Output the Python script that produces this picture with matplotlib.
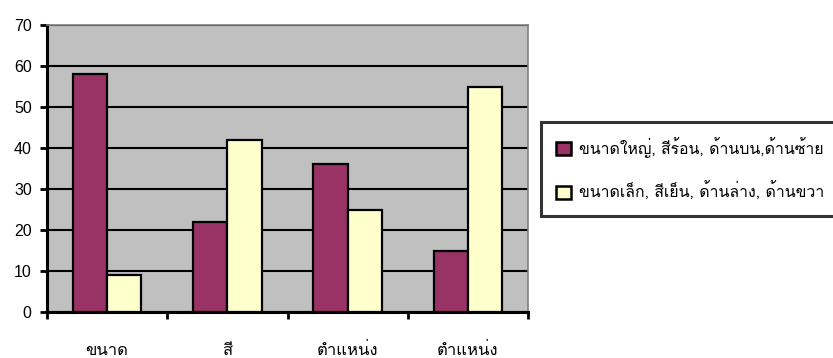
import matplotlib
matplotlib.use("Agg")
import matplotlib.pyplot as plt
from matplotlib import font_manager
from matplotlib.patches import Patch
import numpy as np

categories = ["ขนาด", "สี", "ตำแหน่ง", "ตำแหน่ง"]
series_names = ["ขนาดใหญ่, สีร้อน, ด้านบน,ด้านซ้าย",
                "ขนาดเล็ก, สีเย็น, ด้านล่าง, ด้านขวา"]
series_a = [58, 22, 36, 15]
series_b = [9, 42, 25, 55]
y_ticks = [0, 10, 20, 30, 40, 50, 60, 70]


def thai_font():
    """Return the name of an installed font that covers Thai script."""
    try:
        from fontTools.ttLib import TTFont
    except Exception:
        return None
    found = []
    for f in font_manager.fontManager.ttflist:
        try:
            tt = TTFont(f.fname, fontNumber=0, lazy=True)
            cmap = tt.getBestCmap() or {}
            if 0x0E02 in cmap and 0x0E33 in cmap:
                found.append(f.name)
        except Exception:
            continue
    if not found:
        return None
    for pref in ["Tahoma", "Loma", "Garuda", "Noto Sans Thai", "Sarabun", "Kinnari"]:
        if pref in found:
            return pref
    return sorted(set(found))[0]


tf = thai_font()
families = ([tf] if tf else []) + ["Liberation Sans", "DejaVu Sans"]
plt.rcParams["font.family"] = families

fig = plt.figure(figsize=(8.33, 3.58), dpi=100)
ax = fig.add_axes([47 / 833, 1 - 312 / 358, (528 - 47) / 833, (312 - 25) / 358])

x = np.arange(len(categories))
w = 0.285
ax.set_facecolor("#c0c0c0")
ax.bar(x - w / 2, series_a, width=w, color="#993366", edgecolor="black",
       linewidth=1.6, zorder=3, label=series_names[0])
ax.bar(x + w / 2, series_b, width=w, color="#ffffcc", edgecolor="black",
       linewidth=1.6, zorder=3, label=series_names[1])

ax.set_xlim(-0.5, len(categories) - 0.5)
ax.set_ylim(0, 70)
ax.set_yticks(y_ticks)
ax.set_yticklabels([str(v) for v in y_ticks], fontsize=11.5,
                   family=["Liberation Sans", "DejaVu Sans"])
ax.yaxis.grid(True, color="black", linewidth=1.5, zorder=1)
ax.set_axisbelow(True)

ax.set_xticks(np.arange(-0.5, len(categories), 1.0))
ax.set_xticklabels([])
ax.set_xticks(x, minor=True)
ax.set_xticklabels(categories, minor=True, fontsize=12)
ax.tick_params(axis="x", which="major", direction="out", length=5, width=2)
ax.tick_params(axis="x", which="minor", length=0, pad=22)
ax.tick_params(axis="y", direction="out", length=5, width=2, pad=6)

for side in ["left", "bottom"]:
    ax.spines[side].set_color("black")
    ax.spines[side].set_linewidth(2.2)
for side in ["top", "right"]:
    ax.spines[side].set_color("#808080")
    ax.spines[side].set_linewidth(1.2)

handles = [Patch(facecolor="#993366", edgecolor="black", linewidth=1.8),
           Patch(facecolor="#ffffcc", edgecolor="black", linewidth=1.8)]
leg = fig.legend(handles, series_names, loc="upper left",
                 bbox_to_anchor=(541 / 833, 1 - 122 / 358),
                 fontsize=11.4, frameon=True, fancybox=False,
                 handlelength=0.95, handleheight=0.95, handletextpad=0.5,
                 labelspacing=1.5, borderpad=0.95, borderaxespad=0)
leg.get_frame().set_edgecolor("black")
leg.get_frame().set_linewidth(2.2)

fig.savefig("out.png", dpi=100)
